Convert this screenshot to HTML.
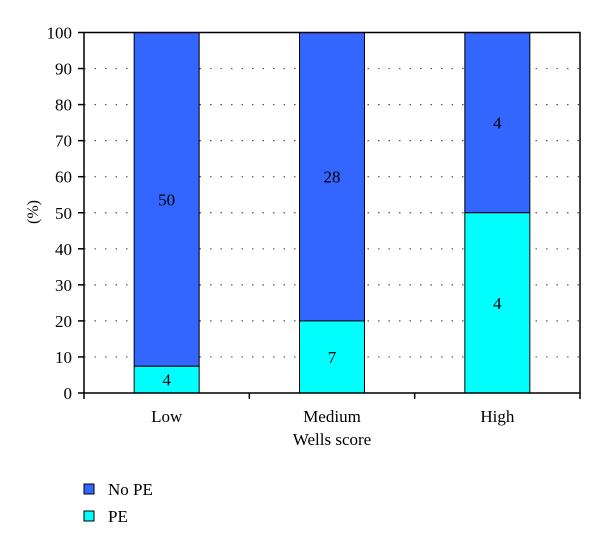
<!DOCTYPE html>
<html><head><meta charset="utf-8"><style>
body{margin:0;background:#fff;}
svg text{font-family:"Liberation Serif",serif;fill:#000;}
</style></head><body>
<svg width="600" height="548">
<g id="grid"></g>
<g id="bars"></g>
<g id="axes"></g>
<text x="0" y="0" transform="translate(38,212) rotate(-90)" text-anchor="middle" font-size="16">(%)</text>
<text x="332" y="445" text-anchor="middle" font-size="17">Wells score</text>
<g>
<rect x="84" y="484" width="10" height="10" fill="#3366ff" stroke="#000"/>
<text x="108" y="495" font-size="17">No PE</text>
<rect x="84" y="511" width="10" height="10" fill="#00ffff" stroke="#000"/>
<text x="108" y="522" font-size="17">PE</text>
</g>
</svg>
<script>
const categories = ["Low","Medium","High"];
const peCounts = [4,7,4];
const noPeCounts = [50,28,4];
const yTicks = [0,10,20,30,40,50,60,70,80,90,100];
const NS="http://www.w3.org/2000/svg";
const L=84,R=580,T=32.5,B=393;
const y=v=>B-(v/100)*(B-T);
const band=(R-L)/categories.length;
const xc=i=>L+band*(i+0.5);
const bw=65;
function mk(tag,attrs,parent){const e=document.createElementNS(NS,tag);for(const k in attrs)e.setAttribute(k,attrs[k]);parent.appendChild(e);return e;}
const grid=document.getElementById('grid'),bars=document.getElementById('bars'),axes=document.getElementById('axes');
yTicks.forEach(t=>{
  if(t>0&&t<100){const g=mk('line',{x1:L,x2:R,y1:y(t),y2:y(t),stroke:'#555','stroke-width':1.2,'stroke-dasharray':'1.5 9'},grid);
  
  }
  const tk=mk('line',{x1:L-6,x2:L,y1:y(t),y2:y(t),stroke:'#000','stroke-width':1.5},axes);
  
  
  const tl=mk('text',{x:L-12,y:y(t)+6,'text-anchor':'end','font-size':17},axes);tl.textContent=t;
  
  
});
categories.forEach((c,i)=>{
  const tot=peCounts[i]+noPeCounts[i];const p=peCounts[i]/tot*100;
  const x0=xc(i)-bw/2;
  const r1=mk('rect',{x:x0,y:y(100),width:bw,height:y(p)-y(100),fill:'#3366ff',stroke:'#000','stroke-width':1},bars);
  
  
  const r2=mk('rect',{x:x0,y:y(p),width:bw,height:y(0)-y(p),fill:'#00ffff',stroke:'#000','stroke-width':1},bars);
  
  
  const t1=mk('text',{x:xc(i),y:y((p+100)/2)+6,'text-anchor':'middle','font-size':17},bars);t1.textContent=noPeCounts[i];
  
  
  const t2=mk('text',{x:xc(i),y:y(p/2)+6,'text-anchor':'middle','font-size':17},bars);t2.textContent=peCounts[i];
  
  
  const tk=mk('line',{x1:L+band*(i+1),x2:L+band*(i+1),y1:B,y2:B+6,stroke:'#000','stroke-width':1.5},axes);
  
  
  const xl=mk('text',{x:xc(i),y:B+29,'text-anchor':'middle','font-size':17},axes);xl.textContent=c;
  
  
});
const fr=mk('rect',{x:L,y:T,width:R-L,height:B-T,fill:'none',stroke:'#000','stroke-width':1.5},axes);


const t0=mk('line',{x1:L,x2:L,y1:B,y2:B+6,stroke:'#000','stroke-width':1.5},axes);


</script>
</body></html>
